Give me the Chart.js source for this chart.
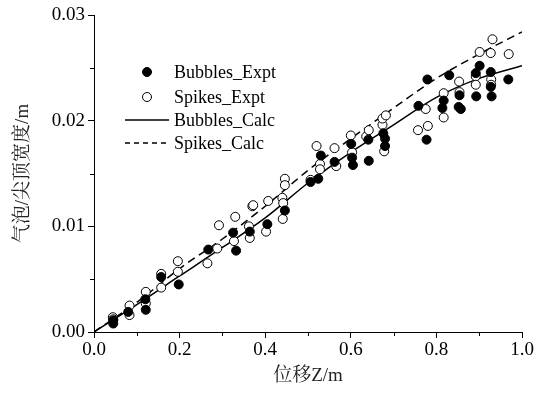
<!DOCTYPE html>
<html>
<head>
<meta charset="utf-8">
<script src="https://cdn.jsdelivr.net/npm/chart.js@4/dist/chart.umd.min.js"></script>
<style>
  html, body { margin: 0; padding: 0; background: #fff; }
  #wrap { width: 543px; height: 394px; }
</style>
</head>
<body>
<div id="wrap"><canvas id="chart" width="543" height="394"></canvas></div>
<script>
// measured points, [Z, width]
const bubblesExpt = [
  [0.045, 0.0008], [0.045, 0.0011], [0.080, 0.0019], [0.121, 0.0021], [0.120, 0.0031],
  [0.157, 0.0052], [0.198, 0.0045], [0.267, 0.0078], [0.325, 0.0094], [0.332, 0.0077],
  [0.364, 0.0095], [0.405, 0.0102], [0.446, 0.0115], [0.506, 0.0142], [0.524, 0.0145],
  [0.530, 0.0167], [0.562, 0.0161], [0.601, 0.0178], [0.605, 0.0158], [0.603, 0.0165],
  [0.641, 0.0182], [0.642, 0.0162], [0.676, 0.0188], [0.680, 0.0183], [0.680, 0.0176],
  [0.758, 0.0214], [0.777, 0.0182], [0.779, 0.0239], [0.814, 0.0212], [0.817, 0.0219],
  [0.830, 0.0243], [0.852, 0.0213], [0.857, 0.0211], [0.854, 0.0224], [0.893, 0.0223],
  [0.892, 0.0245], [0.901, 0.0252], [0.927, 0.0246], [0.929, 0.0223], [0.927, 0.0232],
  [0.968, 0.0239]
];

const spikesExpt = [
  [0.044, 0.0014], [0.045, 0.0012], [0.083, 0.0025], [0.083, 0.0016], [0.121, 0.0038],
  [0.121, 0.0027], [0.157, 0.0055], [0.157, 0.0042], [0.196, 0.0067], [0.196, 0.0057],
  [0.265, 0.0065], [0.288, 0.0079], [0.292, 0.0101], [0.327, 0.0086], [0.330, 0.0109],
  [0.362, 0.0100], [0.364, 0.0089], [0.370, 0.0119], [0.372, 0.0120], [0.402, 0.0095],
  [0.407, 0.0124], [0.441, 0.0107], [0.440, 0.0127], [0.442, 0.0122], [0.446, 0.0145],
  [0.446, 0.0139], [0.506, 0.0144], [0.520, 0.0176], [0.528, 0.0159], [0.528, 0.0154],
  [0.562, 0.0174], [0.566, 0.0157], [0.600, 0.0186], [0.603, 0.0170], [0.636, 0.0185],
  [0.642, 0.0191], [0.674, 0.0196], [0.674, 0.0202], [0.682, 0.0205], [0.678, 0.0171],
  [0.757, 0.0191], [0.775, 0.0211], [0.780, 0.0195], [0.817, 0.0226], [0.817, 0.0203],
  [0.853, 0.0237], [0.854, 0.0227], [0.892, 0.0242], [0.892, 0.0234], [0.901, 0.0265],
  [0.927, 0.0264], [0.931, 0.0277], [0.928, 0.0239], [0.928, 0.0234], [0.969, 0.0263]
];

// calculated curves
const calcZ = [0, 0.1, 0.2, 0.3, 0.4, 0.5, 0.6, 0.7, 0.8, 0.9, 1.0];
const bubblesCalc = [0, 0.0026, 0.0053, 0.0080, 0.0108, 0.0141, 0.0170, 0.0196, 0.0222, 0.0240, 0.0252];
const spikesCalc = [0, 0.0028, 0.0060, 0.0088, 0.0119, 0.0153, 0.0183, 0.0212, 0.0240, 0.0263, 0.0284];

const xTicks = [0, 0.2, 0.4, 0.6, 0.8, 1.0];
const yTicks = [0, 0.01, 0.02, 0.03];
const xMinor = [0.1, 0.3, 0.5, 0.7, 0.9];
const yMinor = [0.005, 0.015, 0.025];

const legendLabels = ["Bubbles_Expt", "Spikes_Expt", "Bubbles_Calc", "Spikes_Calc"];

const serif = "'Liberation Serif', 'Times New Roman', 'Noto Serif CJK SC', 'Noto Sans CJK SC', serif";

const toPts = (arr) => arr.map(([x, y]) => ({ x, y }));
const curve = (ys) => calcZ.map((x, i) => ({ x, y: ys[i] }));

// minor ticks, drawn from the scales
const minorTicks = {
  id: "minorTicks",
  afterDraw(chart) {
    const { ctx, scales: { x, y }, chartArea } = chart;
    ctx.save();
    ctx.strokeStyle = "#000";
    ctx.lineWidth = 1;
    ctx.beginPath();
    xMinor.forEach((v) => {
      const px = Math.round(x.getPixelForValue(v)) + 0.5;
      ctx.moveTo(px, chartArea.bottom);
      ctx.lineTo(px, chartArea.bottom + 4);
    });
    yMinor.forEach((v) => {
      const py = Math.round(y.getPixelForValue(v)) + 0.5;
      ctx.moveTo(chartArea.left, py);
      ctx.lineTo(chartArea.left - 4, py);
    });
    ctx.stroke();
    ctx.restore();
  }
};

// legend inside the plot, upper left
const insideLegend = {
  id: "insideLegend",
  afterDraw(chart) {
    const { ctx } = chart;
    const rows = [72, 97, 120, 143];
    ctx.save();
    ctx.font = "18px " + serif;
    ctx.textBaseline = "middle";
    ctx.fillStyle = "#000";
    legendLabels.forEach((label, i) => {
      const yy = rows[i];
      ctx.strokeStyle = "#000";
      if (i === 0 || i === 1) {
        ctx.beginPath();
        ctx.arc(147, yy, 4.5, 0, Math.PI * 2);
        ctx.fillStyle = i === 0 ? "#000" : "#fff";
        ctx.fill();
        ctx.lineWidth = 1;
        ctx.stroke();
      } else {
        ctx.beginPath();
        ctx.lineWidth = 1.5;
        ctx.setLineDash(i === 3 ? [5, 4] : []);
        ctx.moveTo(125, yy);
        ctx.lineTo(169, yy);
        ctx.stroke();
        ctx.setLineDash([]);
      }
      ctx.fillStyle = "#000";
      ctx.fillText(label, 174, yy + 1);
    });
    ctx.restore();
  }
};

new Chart(document.getElementById("chart"), {
  type: "scatter",
  data: {
    datasets: [
      {
        label: legendLabels[0],
        data: toPts(bubblesExpt),
        pointRadius: 4.5,
        pointBackgroundColor: "#000",
        pointBorderColor: "#000",
        pointBorderWidth: 1,
        order: 1
      },
      {
        label: legendLabels[1],
        data: toPts(spikesExpt),
        pointRadius: 4.5,
        pointBackgroundColor: "#fff",
        pointBorderColor: "#000",
        pointBorderWidth: 1,
        order: 2
      },
      {
        type: "line",
        label: legendLabels[2],
        data: curve(bubblesCalc),
        borderColor: "#000",
        borderWidth: 1.5,
        pointRadius: 0,
        cubicInterpolationMode: "monotone",
        fill: false,
        order: 3
      },
      {
        type: "line",
        label: legendLabels[3],
        data: curve(spikesCalc),
        borderColor: "#000",
        borderWidth: 1.5,
        borderDash: [8, 5],
        pointRadius: 0,
        cubicInterpolationMode: "monotone",
        fill: false,
        order: 4
      }
    ]
  },
  options: {
    responsive: false,
    animation: false,
    layout: { padding: { top: 15, right: 21, left: 0, bottom: 0 } },
    plugins: { legend: { display: false }, tooltip: { enabled: false } },
    scales: {
      x: {
        type: "linear",
        min: 0,
        max: 1,
        afterFit: (scale) => { scale.height = 62; },
        afterBuildTicks: (scale) => { scale.ticks = xTicks.map((v) => ({ value: v })); },
        ticks: {
          color: "#000",
          padding: 1,
          maxRotation: 0,
          font: { family: serif, size: 19 },
          callback: (v) => Number(v).toFixed(1)
        },
        grid: { drawOnChartArea: false, drawTicks: true, tickLength: 6, color: "#000" },
        border: { color: "#000", width: 1 },
        title: {
          display: true,
          text: "位移Z/m",
          color: "#222",
          font: { family: serif, size: 19 },
          padding: { top: 0, bottom: 7 }
        }
      },
      y: {
        type: "linear",
        min: 0,
        max: 0.03,
        afterFit: (scale) => { scale.width = 94; },
        afterBuildTicks: (scale) => { scale.ticks = yTicks.map((v) => ({ value: v })); },
        ticks: {
          color: "#000",
          padding: 3,
          font: { family: serif, size: 19 },
          callback: (v) => Number(v).toFixed(2)
        },
        grid: { drawOnChartArea: false, drawTicks: true, tickLength: 6, color: "#000" },
        border: { color: "#000", width: 1 },
        title: {
          display: true,
          text: "气泡/尖顶宽度/m",
          color: "#222",
          font: { family: serif, size: 19 },
          padding: { top: 12, bottom: 0 }
        }
      }
    }
  },
  plugins: [minorTicks, insideLegend]
});
</script>
</body>
</html>
